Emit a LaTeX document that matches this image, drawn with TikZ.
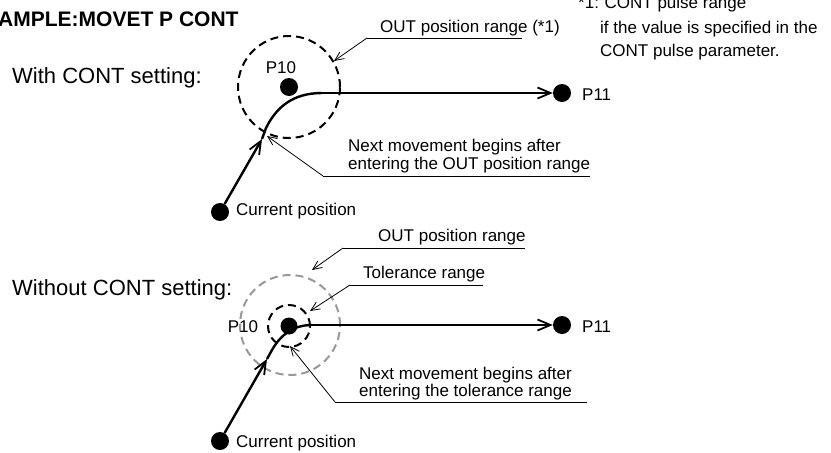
\documentclass[tikz,border=0pt]{standalone}
\usepackage{fontspec}
\setmainfont{Liberation Sans}
\usetikzlibrary{arrows.meta}
\begin{document}
\begin{tikzpicture}[x=1pt,y=-1pt,
  lbl/.style={font=\fontsize{17}{20}\selectfont, inner sep=0pt, anchor=base west},
  big/.style={font=\fontsize{22}{26}\selectfont, inner sep=0pt, anchor=base west},
  dot/.style={circle, fill=black, inner sep=0pt, minimum size=18pt},
  mainpath/.style={line width=2.4pt},
  mainarrow/.style={line width=2.4pt, -{Straight Barb[length=13pt,width=11pt,line width=1.8pt]}},
  lead/.style={line width=0.8pt, -{Straight Barb[length=9pt,width=8pt,line width=0.8pt]}},
  ul/.style={line width=0.8pt},
  rangecircle/.style={circle, draw, inner sep=0pt, line width=2pt, dash pattern=on 8pt off 5pt},
]
\useasboundingbox (0,0) rectangle (831,453);
% title and footnote
\node[font=\fontsize{21}{25}\selectfont\bfseries, inner sep=0pt, anchor=base west] (title) at (-2,26) {AMPLE:MOVET P CONT};
\node[lbl] (fn1) at (578,8) {*1:"CONT pulse range"};
\node[lbl] (fn2) at (600,33) {if the value is specified in the};
\node[lbl] (fn3) at (600,56) {CONT pulse parameter.};

% ---------- With CONT ----------
\node[big] (with) at (12,83) {With CONT setting:};
\node[rangecircle, minimum size=102pt] (out1) at (289,87) {};
\node[dot] (p10a) at (289,87) {};
\node[lbl, anchor=base] (p10alab) at (281,73) {P10};
\node[dot] (cura) at (220,212) {};
\node[lbl] (curalab) at (236,215) {Current position};
\node[dot] (p11a) at (562,93) {};
\node[lbl] (p11alab) at (582,100) {P11};
\coordinate (a1) at (262,139);
\coordinate (b1) at (266,128);
\coordinate (h1) at (322,93);
\draw[mainarrow] (cura) -- (a1);
\draw[mainpath] (a1) -- (b1) .. controls (276,108) and (292,93) .. (h1);
\draw[mainarrow] (h1) -- (p11a.west);

\node[lbl] (outlab1) at (380,32) {OUT position range (*1)};
\coordinate (u1s) at (367,38);
\coordinate (u1e) at (522,38);
\coordinate (t1) at (334,61);
\draw[ul] (u1e) -- (u1s);
\draw[lead] (u1s) -- (t1);

\node[lbl] (next1a) at (348,151) {Next movement begins after};
\node[lbl] (next1b) at (348,169) {entering the OUT position range};
\coordinate (u2s) at (323,176);
\coordinate (u2e) at (590,176);
\coordinate (t2) at (267,136);
\draw[ul] (u2e) -- (u2s);
\draw[lead] (u2s) -- (t2);

% ---------- Without CONT ----------
\node[big] (without) at (12,295) {Without CONT setting:};
\node[rangecircle, draw=black!40, minimum size=100pt] (out2) at (290,325) {};
\node[rangecircle, minimum size=42pt] (tol) at (289,326) {};
\node[dot, minimum size=17pt] (p10b) at (289,326) {};
\node[lbl, anchor=base] (p10blab) at (243,332) {P10};
\node[dot] (curb) at (220,441) {};
\node[lbl] (curblab) at (236,447) {Current position};
\node[dot] (p11b) at (562,325) {};
\node[lbl] (p11blab) at (582,332) {P11};
\coordinate (a2) at (267,359);
\coordinate (b2) at (272,350);
\coordinate (h2) at (312,325);
\draw[mainarrow] (curb) -- (a2);
\draw[mainpath] (a2) -- (b2) .. controls (280,336) and (292,325) .. (h2);
\draw[mainarrow] (h2) -- (p11b.west);

\node[lbl] (outlab2) at (378,241) {OUT position range};
\coordinate (u3s) at (343,248);
\coordinate (u3e) at (525,248);
\coordinate (t3) at (312,270);
\draw[ul] (u3e) -- (u3s);
\draw[lead] (u3s) -- (t3);

\node[lbl] (tollab) at (363,278) {Tolerance range};
\coordinate (u4s) at (350,285);
\coordinate (u4e) at (483,285);
\coordinate (t4) at (310,311);
\draw[ul] (u4e) -- (u4s);
\draw[lead] (u4s) -- (t4);

\node[lbl] (next2a) at (359,379) {Next movement begins after};
\node[lbl] (next2b) at (359,396) {entering the tolerance range};
\coordinate (u5s) at (335,402);
\coordinate (u5e) at (587,402);
\coordinate (t5) at (290,346);
\draw[ul] (u5e) -- (u5s);
\draw[lead] (u5s) -- (t5);
\end{tikzpicture}
\end{document}
